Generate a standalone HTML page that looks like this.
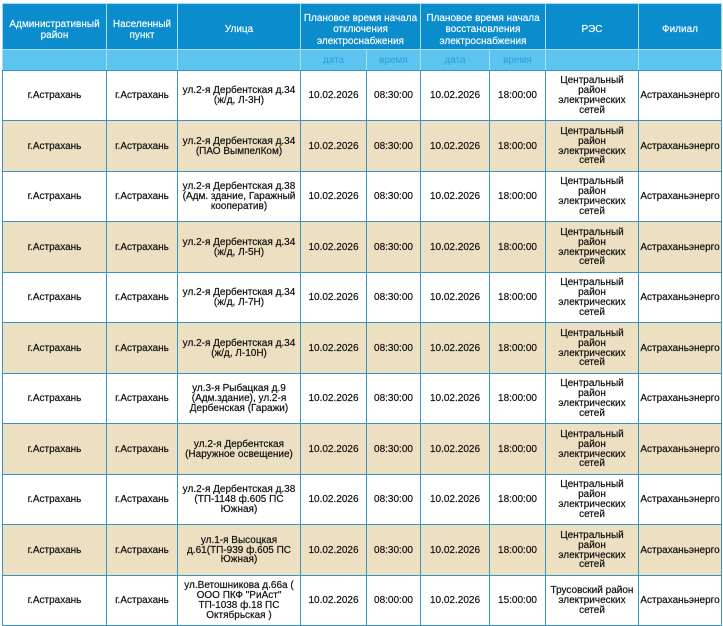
<!DOCTYPE html>
<html><head><meta charset="utf-8">
<style>
html,body{margin:0;padding:0;background:#fff;width:723px;height:625px;overflow:hidden;}
body{font-family:"Liberation Sans","DejaVu Sans",sans-serif;}
.hg{position:absolute;left:2px;top:3px;width:720px;display:grid;
 grid-template-columns:103px 70px 122px 65px 53px 68px 55px 92px 82px;
 grid-template-rows:45px 20px;gap:1px;padding:1px 1px 0 1px;box-sizing:border-box;background:#a9dcf3;}
.hg div{display:flex;align-items:center;justify-content:center;text-align:center;font-size:10px;line-height:11.3px;box-sizing:border-box;}
.h1{background:#0b8ccd;color:#fff;padding-top:7px;-webkit-text-stroke:0.15px #fff;}
.h2{background:#5dc4ef;color:#2b9fd8;padding-top:2px;}
.bg{position:absolute;left:2px;top:70px;width:720px;display:grid;
 grid-template-columns:103px 70px 122px 65px 53px 68px 55px 92px 82px;
 grid-template-rows:49px 50px 49px 50px 49px 50px 49px 50px 49px 50px 49px;
 gap:1px;padding:1px;box-sizing:border-box;background:#3794c3;}
.bg div{display:flex;align-items:center;justify-content:center;text-align:center;font-size:10px;line-height:9.8px;color:#111;background:#fff;-webkit-text-stroke:0.2px #111;padding-top:1px;box-sizing:border-box;}
.bg div.b{background:#eddfc1;}
</style></head><body>
<div class="hg">
<div class="h1">Административный<br>район</div>
<div class="h1">Населенный<br>пункт</div>
<div class="h1">Улица</div>
<div class="h1" style="grid-column:span 2">Плановое время начала<br>отключения<br>электроснабжения</div>
<div class="h1" style="grid-column:span 2">Плановое время начала<br>восстановления<br>электроснабжения</div>
<div class="h1">РЭС</div>
<div class="h1">Филиал</div>
<div class="h2"></div><div class="h2"></div><div class="h2"></div>
<div class="h2">дата</div><div class="h2">время</div><div class="h2">дата</div><div class="h2">время</div>
<div class="h2"></div><div class="h2"></div>
</div>
<div class="bg">
<div>г.Астрахань</div><div>г.Астрахань</div><div>ул.2-я Дербентская д.34<br>(ж/д, Л-3Н)</div><div>10.02.2026</div><div>08:30:00</div><div>10.02.2026</div><div>18:00:00</div><div>Центральный<br>район<br>электрических<br>сетей</div><div>Астраханьэнерго</div>

<div class="b">г.Астрахань</div><div class="b">г.Астрахань</div><div class="b">ул.2-я Дербентская д.34<br>(ПАО ВымпелКом)</div><div class="b">10.02.2026</div><div class="b">08:30:00</div><div class="b">10.02.2026</div><div class="b">18:00:00</div><div class="b">Центральный<br>район<br>электрических<br>сетей</div><div class="b">Астраханьэнерго</div>

<div>г.Астрахань</div><div>г.Астрахань</div><div>ул.2-я Дербентская д.38<br>(Адм. здание, Гаражный<br>кооператив)</div><div>10.02.2026</div><div>08:30:00</div><div>10.02.2026</div><div>18:00:00</div><div>Центральный<br>район<br>электрических<br>сетей</div><div>Астраханьэнерго</div>

<div class="b">г.Астрахань</div><div class="b">г.Астрахань</div><div class="b">ул.2-я Дербентская д.34<br>(ж/д, Л-5Н)</div><div class="b">10.02.2026</div><div class="b">08:30:00</div><div class="b">10.02.2026</div><div class="b">18:00:00</div><div class="b">Центральный<br>район<br>электрических<br>сетей</div><div class="b">Астраханьэнерго</div>

<div>г.Астрахань</div><div>г.Астрахань</div><div>ул.2-я Дербентская д.34<br>(ж/д, Л-7Н)</div><div>10.02.2026</div><div>08:30:00</div><div>10.02.2026</div><div>18:00:00</div><div>Центральный<br>район<br>электрических<br>сетей</div><div>Астраханьэнерго</div>

<div class="b">г.Астрахань</div><div class="b">г.Астрахань</div><div class="b">ул.2-я Дербентская д.34<br>(ж/д, Л-10Н)</div><div class="b">10.02.2026</div><div class="b">08:30:00</div><div class="b">10.02.2026</div><div class="b">18:00:00</div><div class="b">Центральный<br>район<br>электрических<br>сетей</div><div class="b">Астраханьэнерго</div>

<div>г.Астрахань</div><div>г.Астрахань</div><div>ул.3-я Рыбацкая д.9<br>(Адм.здание), ул.2-я<br>Дербенская (Гаражи)</div><div>10.02.2026</div><div>08:30:00</div><div>10.02.2026</div><div>18:00:00</div><div>Центральный<br>район<br>электрических<br>сетей</div><div>Астраханьэнерго</div>

<div class="b">г.Астрахань</div><div class="b">г.Астрахань</div><div class="b">ул.2-я Дербентская<br>(Наружное освещение)</div><div class="b">10.02.2026</div><div class="b">08:30:00</div><div class="b">10.02.2026</div><div class="b">18:00:00</div><div class="b">Центральный<br>район<br>электрических<br>сетей</div><div class="b">Астраханьэнерго</div>

<div>г.Астрахань</div><div>г.Астрахань</div><div>ул.2-я Дербентская д.38<br>(ТП-1148 ф.605 ПС<br>Южная)</div><div>10.02.2026</div><div>08:30:00</div><div>10.02.2026</div><div>18:00:00</div><div>Центральный<br>район<br>электрических<br>сетей</div><div>Астраханьэнерго</div>

<div class="b">г.Астрахань</div><div class="b">г.Астрахань</div><div class="b">ул.1-я Высоцкая<br>д.61(ТП-939 ф.605 ПС<br>Южная)</div><div class="b">10.02.2026</div><div class="b">08:30:00</div><div class="b">10.02.2026</div><div class="b">18:00:00</div><div class="b">Центральный<br>район<br>электрических<br>сетей</div><div class="b">Астраханьэнерго</div>

<div>г.Астрахань</div><div>г.Астрахань</div><div>ул.Ветошникова д.66а (<br>ООО ПКФ "РиАст"<br>ТП-1038 ф.18 ПС<br>Октябрьская )</div><div>10.02.2026</div><div>08:00:00</div><div>10.02.2026</div><div>15:00:00</div><div>Трусовский район<br>электрических<br>сетей</div><div>Астраханьэнерго</div>
</div>
</body></html>
